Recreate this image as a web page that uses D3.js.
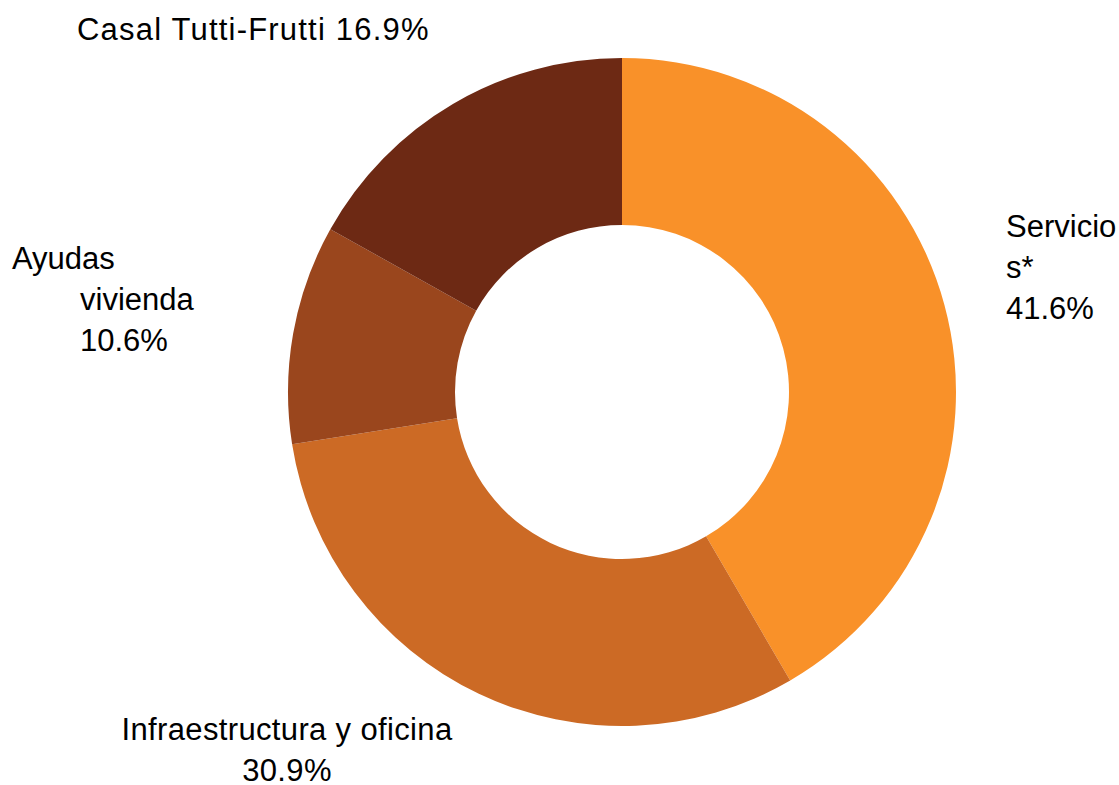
<!DOCTYPE html>
<html>
<head>
<meta charset="utf-8">
<script src="https://cdn.jsdelivr.net/npm/d3@7"></script>
<style>
  body { margin: 0; background: #fff; }
  text { font-family: "Liberation Sans", Arial, sans-serif; font-size: 31px; fill: #000; }
</style>
</head>
<body>
<div id="chart"></div>
<script>
// Categories, clockwise from 12 o'clock
var CATEGORIES = ['Servicios*', 'Infraestructura y oficina', 'Ayudas vivienda', 'Casal Tutti-Frutti'];
// Share of total (%)
var VALUES = [41.6, 30.9, 10.6, 16.9];
// Slice colours
var COLORS = ['#F99129', '#CC6A25', '#9A461D', '#6D2914'];
// Label lines as they wrap in the original
var LABEL_LINES = [
  ['Servicio', 's*', '41.6%'],
  ['Infraestructura y oficina', '30.9%'],
  ['Ayudas', 'vivienda', '10.6%'],
  ['Casal Tutti-Frutti 16.9%']
];

var width = 1119, height = 785;
var cx = 622, cy = 392;
var outerR = 334, innerR = 167;

var svg = d3.select('#chart')
  .append('svg')
    .attr('width', width)
    .attr('height', height);

var g = svg.append('g')
  .attr('transform', 'translate(' + cx + ',' + cy + ')');

var pie = d3.pie()
  .sort(null)
  .value(function(d) { return d; });

var arc = d3.arc()
  .innerRadius(innerR)
  .outerRadius(outerR);

var color = d3.scaleOrdinal().domain(CATEGORIES).range(COLORS);

g.selectAll('path')
  .data(pie(VALUES))
  .enter().append('path')
    .attr('d', arc)
    .attr('fill', function(d, i) { return color(CATEGORIES[i]); });

// label placement (relative to centre), per slice
var labelPos = [
  { x: 384, y: -155, anchor: 'start', dx: [0, 0, 0], ls: 0 },
  { x: -335, y: 348, anchor: 'middle', dx: [0, 0], ls: 0.35 },
  { x: -610, y: -123, anchor: 'start', dx: [0, 68, 68], ls: 0 },
  { x: -545, y: -352, anchor: 'start', dx: [0], ls: 1.2 }
];
var lineH = 41;

var labels = svg.append('g')
  .attr('transform', 'translate(' + cx + ',' + cy + ')');

LABEL_LINES.forEach(function(lines, i) {
  var p = labelPos[i];
  var t = labels.append('text')
    .attr('text-anchor', p.anchor)
    .style('letter-spacing', p.ls + 'px');
  lines.forEach(function(line, j) {
    t.append('tspan')
      .attr('x', p.x + p.dx[j])
      .attr('y', p.y + j * lineH)
      .text(line);
  });
});
</script>
</body>
</html>
